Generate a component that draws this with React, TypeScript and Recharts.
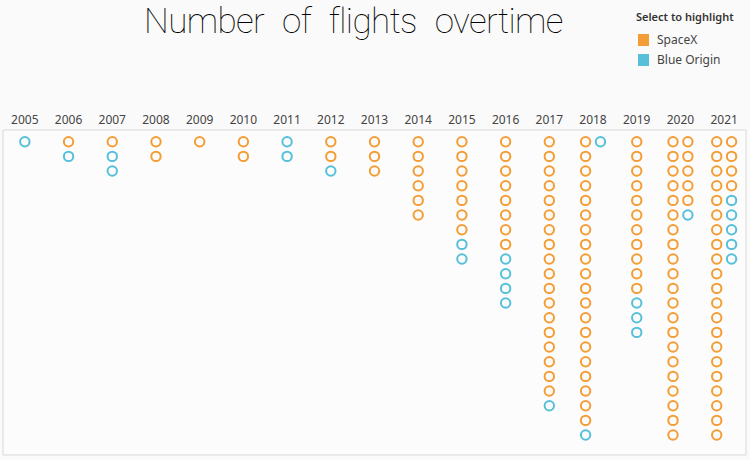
import { ReferenceArea, Scatter, ScatterChart, XAxis, YAxis } from "recharts";

document.body.style.margin = "0";

const years = [
  "2005", "2006", "2007", "2008", "2009", "2010", "2011", "2012", "2013",
  "2014", "2015", "2016", "2017", "2018", "2019", "2020", "2021",
];
const spaceXFlights = [0, 1, 1, 2, 1, 2, 0, 2, 3, 6, 7, 8, 18, 20, 11, 26, 25];
const blueOriginFlights = [1, 1, 2, 0, 0, 0, 2, 1, 0, 0, 2, 4, 1, 2, 3, 1, 5];

const ORANGE = "#f59d35";
const BLUE = "#56c0da";
const ROWS = 21;

// one dot per flight, stacked down the year column, wrapping into a second column
const buildPoints = () => {
  const spacex: { x: number; y: number }[] = [];
  const blue: { x: number; y: number }[] = [];
  years.forEach((_, i) => {
    const s = spaceXFlights[i];
    const total = s + blueOriginFlights[i];
    const cols = Math.ceil(total / ROWS);
    for (let k = 0; k < total; k++) {
      const col = Math.floor(k / ROWS);
      const x = i + (cols > 1 ? (col - (cols - 1) / 2) * 0.34 : 0);
      const pt = { x, y: k % ROWS };
      if (k < s) spacex.push(pt);
      else blue.push(pt);
    }
  });
  return { spacex, blue };
};

const { spacex, blue } = buildPoints();

const ring = (color: string) => (props: any) => (
  <circle cx={props.cx} cy={props.cy} r={4.7} fill="none" stroke={color} strokeWidth={2} />
);

const App = () => {
  return (
    <div style={{ position: "relative", width: 750, height: 460, background: "#fafafa" }}>
      <div
        style={{
          position: "absolute",
          left: 144,
          top: 1,
          fontFamily: "Roboto",
          fontWeight: 100,
          fontSize: 35,
          letterSpacing: -0.6,
          wordSpacing: 10,
          color: "#000",
          whiteSpace: "nowrap",
        }}
      >
        Number of flights overtime
      </div>
      <div style={{ position: "absolute", left: 636, top: 9, fontFamily: "Noto Sans", fontSize: 11, fontWeight: 600, color: "#333" }}>
        Select to highlight
      </div>
      {[
        { name: "SpaceX", color: ORANGE, top: 31 },
        { name: "Blue Origin", color: BLUE, top: 51 },
      ].map((item) => (
        <div key={item.name} style={{ position: "absolute", left: 638, top: item.top, display: "flex", alignItems: "center" }}>
          <div style={{ width: 11, height: 12, background: item.color }} />
          <span style={{ marginLeft: 8, fontFamily: "Noto Sans", fontSize: 12, color: "#444" }}>{item.name}</span>
        </div>
      ))}
      <div style={{ position: "absolute", left: 0, top: 0 }}>
        <ScatterChart width={750} height={460} margin={{ top: 110, right: 4, bottom: 5, left: 3 }}>
          <XAxis
            type="number"
            dataKey="x"
            orientation="top"
            height={20}
            domain={[-0.5, 16.5]}
            ticks={years.map((_, i) => i)}
            tickFormatter={(v: number) => years[v]}
            axisLine={false}
            tickLine={false}
            tickSize={0}
            tickMargin={6}
            interval={0}
            tick={{ fill: "#444", fontSize: 12, fontFamily: "Noto Sans" }}
          />
          <YAxis type="number" dataKey="y" hide reversed domain={[-0.8, 21.36]} />
          <ReferenceArea x1={-0.5} x2={16.5} y1={-0.8} y2={21.36} fill="#fcfcfc" stroke="#d9d9d9" fillOpacity={1} />
          <Scatter name="SpaceX" data={spacex} shape={ring(ORANGE)} isAnimationActive={false} />
          <Scatter name="Blue Origin" data={blue} shape={ring(BLUE)} isAnimationActive={false} />
        </ScatterChart>
      </div>
    </div>
  );
};

export default App;
